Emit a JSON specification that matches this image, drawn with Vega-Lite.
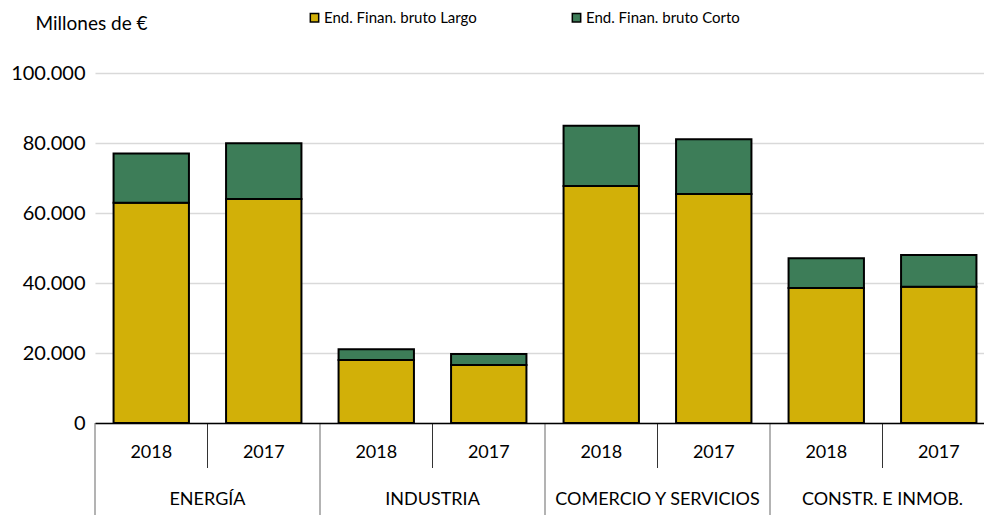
{
  "$schema": "https://vega.github.io/schema/vega-lite/v6.json",
  "autosize": {"type": "none"},
  "padding": {"left": 95, "top": 73, "right": 0, "bottom": 93},
  "width": 900,
  "height": 350,
  "background": "white",
  "config": {
    "view": {"stroke": null},
    "font": "Lato"
  },
  "data": {
    "values": [
      {"sector": "ENERGÍA", "anio": "2018", "clave": "ENERGÍA 2018", "serie": "End. Finan. bruto Largo", "orden": 1, "valor": 62900},
      {"sector": "ENERGÍA", "anio": "2018", "clave": "ENERGÍA 2018", "serie": "End. Finan. bruto  Corto", "orden": 2, "valor": 14100},
      {"sector": "ENERGÍA", "anio": "2017", "clave": "ENERGÍA 2017", "serie": "End. Finan. bruto Largo", "orden": 1, "valor": 64000},
      {"sector": "ENERGÍA", "anio": "2017", "clave": "ENERGÍA 2017", "serie": "End. Finan. bruto  Corto", "orden": 2, "valor": 15900},
      {"sector": "INDUSTRIA", "anio": "2018", "clave": "INDUSTRIA 2018", "serie": "End. Finan. bruto Largo", "orden": 1, "valor": 18000},
      {"sector": "INDUSTRIA", "anio": "2018", "clave": "INDUSTRIA 2018", "serie": "End. Finan. bruto  Corto", "orden": 2, "valor": 3100},
      {"sector": "INDUSTRIA", "anio": "2017", "clave": "INDUSTRIA 2017", "serie": "End. Finan. bruto Largo", "orden": 1, "valor": 16600},
      {"sector": "INDUSTRIA", "anio": "2017", "clave": "INDUSTRIA 2017", "serie": "End. Finan. bruto  Corto", "orden": 2, "valor": 3100},
      {"sector": "COMERCIO Y SERVICIOS", "anio": "2018", "clave": "COMERCIO Y SERVICIOS 2018", "serie": "End. Finan. bruto Largo", "orden": 1, "valor": 67700},
      {"sector": "COMERCIO Y SERVICIOS", "anio": "2018", "clave": "COMERCIO Y SERVICIOS 2018", "serie": "End. Finan. bruto  Corto", "orden": 2, "valor": 17200},
      {"sector": "COMERCIO Y SERVICIOS", "anio": "2017", "clave": "COMERCIO Y SERVICIOS 2017", "serie": "End. Finan. bruto Largo", "orden": 1, "valor": 65400},
      {"sector": "COMERCIO Y SERVICIOS", "anio": "2017", "clave": "COMERCIO Y SERVICIOS 2017", "serie": "End. Finan. bruto  Corto", "orden": 2, "valor": 15700},
      {"sector": "CONSTR. E INMOB.", "anio": "2018", "clave": "CONSTR. E INMOB. 2018", "serie": "End. Finan. bruto Largo", "orden": 1, "valor": 38600},
      {"sector": "CONSTR. E INMOB.", "anio": "2018", "clave": "CONSTR. E INMOB. 2018", "serie": "End. Finan. bruto  Corto", "orden": 2, "valor": 8500},
      {"sector": "CONSTR. E INMOB.", "anio": "2017", "clave": "CONSTR. E INMOB. 2017", "serie": "End. Finan. bruto Largo", "orden": 1, "valor": 38900},
      {"sector": "CONSTR. E INMOB.", "anio": "2017", "clave": "CONSTR. E INMOB. 2017", "serie": "End. Finan. bruto  Corto", "orden": 2, "valor": 9100}
    ]
  },
  "encoding": {
    "x": {
      "field": "clave", "type": "nominal",
      "sort": ["ENERGÍA 2018", "ENERGÍA 2017", "INDUSTRIA 2018", "INDUSTRIA 2017", "COMERCIO Y SERVICIOS 2018", "COMERCIO Y SERVICIOS 2017", "CONSTR. E INMOB. 2018", "CONSTR. E INMOB. 2017"],
      "scale": {"paddingInner": 0, "paddingOuter": 0},
      "axis": {
        "title": null, "orient": "bottom", "labelAngle": 0,
        "labelExpr": "slice(datum.value, -4)",
        "ticks": false,
        "labelPadding": 20, "labelFontSize": 18, "labelColor": "black", "labelBaseline": "top",
        "domainColor": "black", "domainWidth": 1.5, "zindex": 1
      }
    }
  },
  "layer": [
    {
      "mark": {"type": "bar", "stroke": "black", "strokeWidth": 2, "width": {"band": 0.67}},
      "encoding": {
        "y": {
          "field": "valor", "type": "quantitative", "stack": "zero",
          "scale": {"domain": [0, 100000]},
          "axis": {
            "values": [0, 20000, 40000, 60000, 80000, 100000],
            "labelExpr": "replace(format(datum.value, ',d'), ',', '.')",
            "domain": false, "ticks": false, "gridColor": "#d9d9d9", "gridWidth": 1.5,
            "labelFontSize": 20, "labelColor": "black", "labelPadding": 10,
            "title": "Millones de €", "titleAngle": 0, "titleAlign": "left", "titleBaseline": "alphabetic",
            "titleX": -60, "titleY": -44, "titleFontSize": 19, "titleFontWeight": "normal", "titleColor": "black"
          }
        },
        "color": {
          "field": "serie", "type": "nominal",
          "sort": ["End. Finan. bruto Largo", "End. Finan. bruto  Corto"],
          "scale": {"domain": ["End. Finan. bruto Largo", "End. Finan. bruto  Corto"], "range": ["#D2B008", "#3D7D58"]},
          "legend": {
            "title": null, "orient": "none", "direction": "horizontal",
            "legendX": 212, "legendY": -63,
            "symbolType": "square", "symbolSize": 70, "symbolStrokeColor": "black", "symbolStrokeWidth": 1.5,
            "labelFontSize": 15, "labelColor": "black", "labelOffset": 2,
            "columnPadding": 92
          }
        },
        "order": {"field": "orden", "type": "quantitative"}
      }
    },
    {
      "transform": [{"filter": "datum.anio == '2017' && datum.orden == 1"}],
      "mark": {"type": "rule", "color": "#333333", "strokeWidth": 1},
      "encoding": {
        "x": {"field": "clave", "type": "nominal", "bandPosition": 0},
        "y": {"datum": 0, "type": "quantitative"},
        "y2": {"datum": -12860}
      }
    },
    {
      "transform": [{"filter": "datum.anio == '2018' && datum.orden == 1"}],
      "mark": {"type": "rule", "color": "#9a9a9a", "strokeWidth": 1.5},
      "encoding": {
        "x": {"field": "clave", "type": "nominal", "bandPosition": 0},
        "y": {"datum": 0, "type": "quantitative"},
        "y2": {"datum": -26300}
      }
    },
    {
      "transform": [{"filter": "datum.anio == '2018' && datum.orden == 1"}],
      "mark": {"type": "text", "fontSize": 18, "color": "black", "baseline": "middle", "align": "center"},
      "encoding": {
        "x": {"field": "clave", "type": "nominal", "bandPosition": 1},
        "y": {"datum": -22000, "type": "quantitative"},
        "text": {"field": "sector"}
      }
    }
  ]
}
